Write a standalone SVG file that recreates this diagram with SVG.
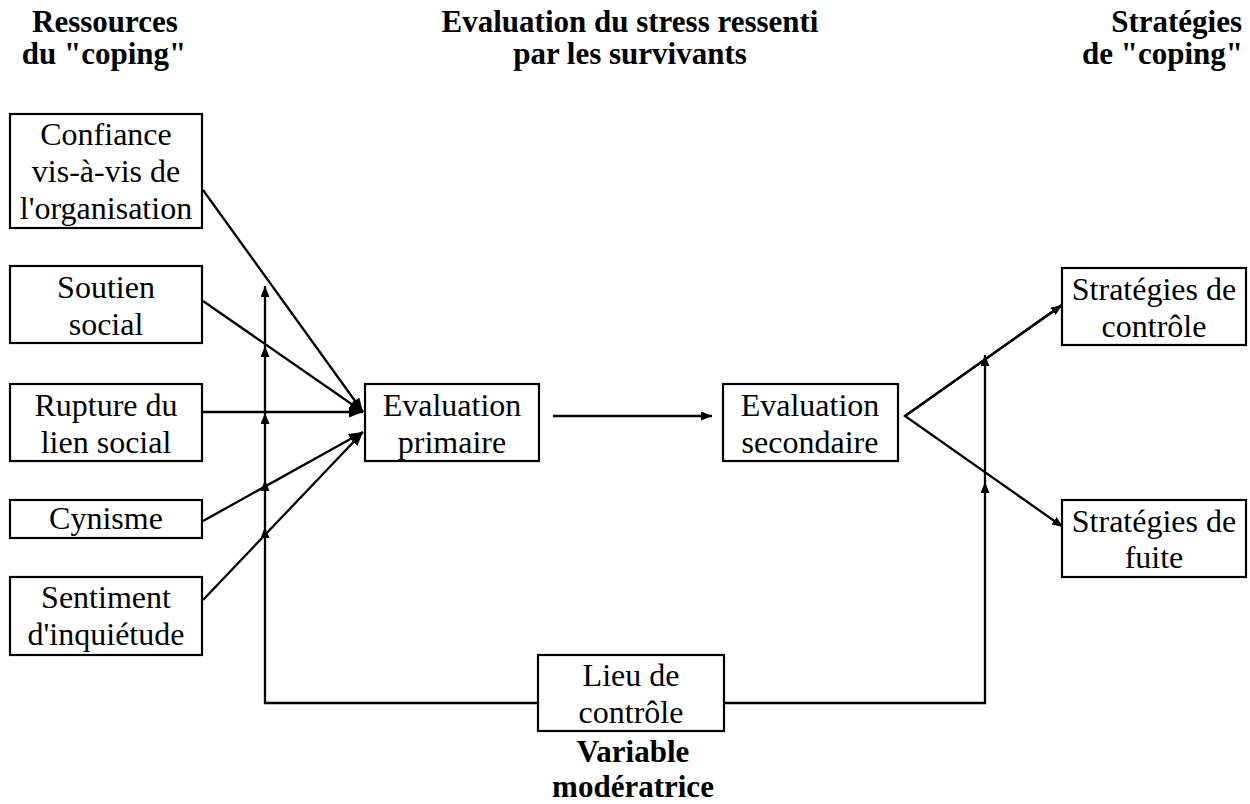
<svg xmlns="http://www.w3.org/2000/svg" width="1250" height="804" viewBox="0 0 1250 804" font-family="Liberation Serif, Times New Roman, DejaVu Serif, serif">
<style>
.box{fill:#fff;stroke:#000;stroke-width:2.2}
.t{font-size:32px;fill:#000;text-anchor:middle}
.b{font-size:31px;font-weight:bold;fill:#000;text-anchor:middle}
.ln{fill:none;stroke:#000;stroke-width:2.3}
.a{marker-end:url(#ah)}
.s{marker-end:url(#sh)}
</style>
<defs>
<marker id="ah" markerUnits="userSpaceOnUse" markerWidth="14" markerHeight="11" refX="14" refY="5.5" orient="auto"><path d="M0,0 L14,5.5 L0,11 z" fill="#000"/></marker>
<marker id="sh" markerUnits="userSpaceOnUse" markerWidth="11" markerHeight="9" refX="11" refY="4.5" orient="auto"><path d="M0,0 L11,4.5 L0,9 z" fill="#000"/></marker>
</defs>
<rect width="1250" height="804" fill="#fff"/>
<g id="titles" font-family="Liberation Serif">
<text class="b" x="105" y="32">Ressources</text>
<text class="b" x="104" y="64">du "coping"</text>
<text class="b" x="630" y="32">Evaluation du stress ressenti</text>
<text class="b" x="630" y="64">par les survivants</text>
<text class="b" x="1242" y="32" style="text-anchor:end">Stratégies</text>
<text class="b" x="1243" y="64" style="text-anchor:end">de "coping"</text>
<text class="b" x="633" y="762">Variable</text>
<text class="b" x="633" y="797">modératrice</text>
</g>
<g id="connectors">
<line class="ln a" x1="203" y1="190" x2="363" y2="412"/>
<line class="ln a" x1="203" y1="301" x2="363" y2="412"/>
<line class="ln a" x1="203" y1="412" x2="363" y2="412"/>
<line class="ln a" x1="203" y1="521" x2="363" y2="432"/>
<line class="ln a" x1="203" y1="600" x2="363" y2="432"/>
<polyline class="ln s" points="538,703 265,703 265,527"/>
<line class="ln s" x1="265" y1="527" x2="265" y2="480"/>
<line class="ln s" x1="265" y1="480" x2="265" y2="413"/>
<line class="ln s" x1="265" y1="413" x2="265" y2="346"/>
<line class="ln s" x1="265" y1="346" x2="265" y2="286"/>
<line class="ln s" x1="553" y1="416" x2="712" y2="416"/>
<polyline class="ln s" points="1062,305 905,416 1063,527"/>
<line class="ln s" x1="905" y1="416" x2="1062" y2="305"/>
<polyline class="ln s" points="724,703 985,703 985,482"/>
<line class="ln s" x1="985" y1="482" x2="985" y2="355"/>
</g>
<g id="n-confiance" font-family="Liberation Serif"><rect class="box" x="10" y="114" width="192" height="114"/><text class="t" x="106" y="145">Confiance</text><text class="t" x="106" y="182">vis-à-vis de</text><text class="t" x="106" y="219">l'organisation</text></g>
<g id="n-soutien" font-family="Liberation Serif"><rect class="box" x="10" y="266" width="192" height="77"/><text class="t" x="106" y="298">Soutien</text><text class="t" x="106" y="335">social</text></g>
<g id="n-rupture" font-family="Liberation Serif"><rect class="box" x="10" y="384" width="192" height="77"/><text class="t" x="106" y="416">Rupture du</text><text class="t" x="106" y="453">lien social</text></g>
<g id="n-cynisme" font-family="Liberation Serif"><rect class="box" x="10" y="500" width="192" height="38"/><text class="t" x="106" y="529">Cynisme</text></g>
<g id="n-sentiment" font-family="Liberation Serif"><rect class="box" x="10" y="577" width="192" height="78"/><text class="t" x="106" y="608">Sentiment</text><text class="t" x="106" y="645">d'inquiétude</text></g>
<g id="n-primaire" font-family="Liberation Serif"><rect class="box" x="365" y="384" width="174" height="77"/><text class="t" x="452" y="416">Evaluation</text><text class="t" x="452" y="453">primaire</text></g>
<g id="n-secondaire" font-family="Liberation Serif"><rect class="box" x="723" y="384" width="175" height="77"/><text class="t" x="810" y="416">Evaluation</text><text class="t" x="810" y="453">secondaire</text></g>
<g id="n-controle" font-family="Liberation Serif"><rect class="box" x="1062" y="268" width="184" height="77"/><text class="t" x="1154" y="300">Stratégies de</text><text class="t" x="1154" y="337">contrôle</text></g>
<g id="n-fuite" font-family="Liberation Serif"><rect class="box" x="1062" y="500" width="184" height="77"/><text class="t" x="1154" y="532">Stratégies de</text><text class="t" x="1154" y="568">fuite</text></g>
<g id="n-lieu" font-family="Liberation Serif"><rect class="box" x="538" y="655" width="186" height="76"/><text class="t" x="631" y="686">Lieu de</text><text class="t" x="631" y="723">contrôle</text></g>
</svg>
